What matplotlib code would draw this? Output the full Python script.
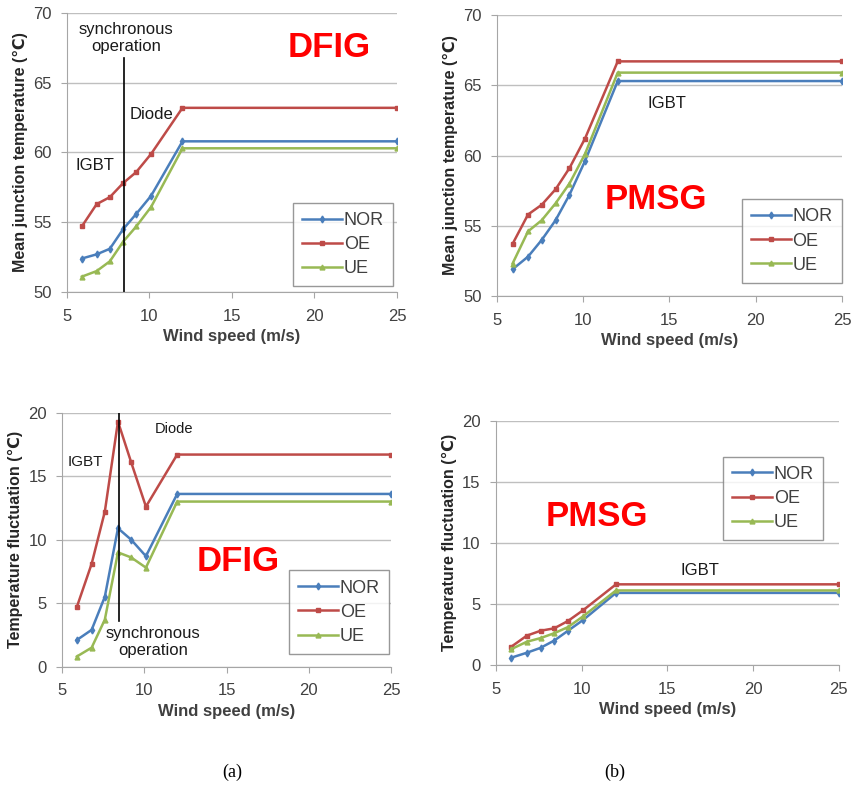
import matplotlib
matplotlib.use("Agg")
import matplotlib.pyplot as plt

plt.rcParams['font.family'] = ['Liberation Sans', 'DejaVu Sans']

# ---- data ----
wind = [5.9, 6.8, 7.6, 8.4, 9.2, 10.1, 12.0, 25.0]

dfig_mean_nor = [52.4, 52.7, 53.1, 54.5, 55.6, 56.9, 60.8, 60.8]
dfig_mean_oe = [54.7, 56.3, 56.8, 57.8, 58.6, 59.9, 63.2, 63.2]
dfig_mean_ue = [51.1, 51.5, 52.2, 53.6, 54.7, 56.1, 60.3, 60.3]

pmsg_mean_nor = [51.9, 52.8, 54.0, 55.4, 57.2, 59.6, 65.3, 65.3]
pmsg_mean_oe = [53.7, 55.8, 56.5, 57.6, 59.1, 61.2, 66.7, 66.7]
pmsg_mean_ue = [52.3, 54.6, 55.4, 56.6, 58.0, 60.1, 65.9, 65.9]

dfig_fluc_nor = [2.1, 2.9, 5.5, 10.9, 10.0, 8.7, 13.6, 13.6]
dfig_fluc_oe = [4.7, 8.1, 12.2, 19.3, 16.1, 12.6, 16.7, 16.7]
dfig_fluc_ue = [0.8, 1.5, 3.7, 9.0, 8.6, 7.8, 13.0, 13.0]

pmsg_fluc_nor = [0.6, 1.0, 1.4, 2.0, 2.8, 3.7, 5.9, 5.9]
pmsg_fluc_oe = [1.5, 2.4, 2.8, 3.0, 3.6, 4.5, 6.6, 6.6]
pmsg_fluc_ue = [1.3, 1.9, 2.2, 2.6, 3.1, 4.0, 6.1, 6.1]

series_names = ["NOR", "OE", "UE"]
sync_speed = 8.45

colors = {"NOR": "#4A7EBB", "OE": "#BE4B48", "UE": "#98B954"}
markers = {"NOR": "d", "OE": "s", "UE": "^"}

fig = plt.figure(figsize=(8.51, 7.86), dpi=100)

def style_axes(ax, ylim, yticks, ylabel):
    ax.set_xlim(5, 25)
    ax.set_ylim(*ylim)
    ax.set_xticks([5, 10, 15, 20, 25])
    ax.set_yticks(yticks)
    ax.yaxis.grid(True, color="#BFBFBF", lw=1)
    ax.set_axisbelow(True)
    for s in ["top", "right"]:
        ax.spines[s].set_visible(False)
    for s in ["left", "bottom"]:
        ax.spines[s].set_color("#A6A6A6")
    ax.tick_params(axis="both", labelsize=12, colors="#A6A6A6", labelcolor="#404040",
                   length=4, direction="out")
    ax.tick_params(axis="x", pad=8)
    ax.tick_params(axis="y", pad=7)
    ax.set_xlabel("Wind speed (m/s)", fontsize=12, fontweight="bold", color="#404040", labelpad=4)
    ax.set_ylabel(ylabel, fontsize=11.5, fontweight="bold", color="#262626", labelpad=4)

def plot_series(ax, data):
    for name, vals in zip(series_names, data):
        ax.plot(wind, vals, color=colors[name], lw=1.8, marker=markers[name],
                ms=3.5, mec=colors[name], label=name)

def add_legend(ax, loc, anchor):
    leg = ax.legend(loc=loc, bbox_to_anchor=anchor, fontsize=13, frameon=True,
                    fancybox=False, edgecolor="#7F7F7F", handlelength=2.2,
                    handletextpad=0.1, borderpad=0.5, labelspacing=0.4,
                    borderaxespad=0)
    leg.get_frame().set_linewidth(1.0)
    for t in leg.get_texts():
        t.set_color("#404040")

ylab_mean = "Mean junction temperature (\u2103)"
ylab_fluc = "Temperature fluctuation (\u2103)"

# Top-left: DFIG mean
ax1 = fig.add_axes([0.0787, 0.6285, 0.3878, 0.355])
plot_series(ax1, [dfig_mean_nor, dfig_mean_oe, dfig_mean_ue])
style_axes(ax1, (50, 70), [50, 55, 60, 65, 70], ylab_mean)
ax1.plot([sync_speed, sync_speed], [50, 66.8], color="black", lw=1.2)
ax1.text(8.6, 68.2, "synchronous\noperation", ha="center", va="center", fontsize=12, color="#1a1a1a", linespacing=1.1)
ax1.text(10.15, 62.75, "Diode", ha="center", va="center", fontsize=12, color="#1a1a1a")
ax1.text(6.7, 59.1, "IGBT", ha="center", va="center", fontsize=12, color="#1a1a1a")
ax1.text(20.9, 67.5, "DFIG", ha="center", va="center", fontsize=25, fontweight="bold", color="#FF0000")
add_legend(ax1, "lower right", (0.988, 0.02))

# Top-right: PMSG mean
ax2 = fig.add_axes([0.584, 0.6234, 0.4054, 0.3575])
plot_series(ax2, [pmsg_mean_nor, pmsg_mean_oe, pmsg_mean_ue])
style_axes(ax2, (50, 70), [50, 55, 60, 65, 70], ylab_mean)
ax2.text(14.85, 63.7, "IGBT", ha="center", va="center", fontsize=12, color="#1a1a1a")
ax2.text(14.2, 56.9, "PMSG", ha="center", va="center", fontsize=25, fontweight="bold", color="#FF0000")
add_legend(ax2, "lower right", (0.999, 0.047))

# Bottom-left: DFIG fluctuation
ax3 = fig.add_axes([0.0729, 0.1518, 0.3866, 0.3232])
plot_series(ax3, [dfig_fluc_nor, dfig_fluc_oe, dfig_fluc_ue])
style_axes(ax3, (0, 20), [0, 5, 10, 15, 20], ylab_fluc)
ax3.plot([sync_speed, sync_speed], [3.6, 20], color="black", lw=1.2)
ax3.text(10.55, 1.95, "synchronous\noperation", ha="center", va="center", fontsize=12, color="#1a1a1a", linespacing=1.1)
ax3.text(11.8, 18.7, "Diode", ha="center", va="center", fontsize=10.5, color="#1a1a1a")
ax3.text(6.4, 16.1, "IGBT", ha="center", va="center", fontsize=11, color="#1a1a1a")
ax3.text(15.7, 8.3, "DFIG", ha="center", va="center", fontsize=25, fontweight="bold", color="#FF0000")
add_legend(ax3, "lower right", (0.994, 0.05))

# Bottom-right: PMSG fluctuation
ax4 = fig.add_axes([0.5828, 0.154, 0.403, 0.3108])
plot_series(ax4, [pmsg_fluc_nor, pmsg_fluc_oe, pmsg_fluc_ue])
style_axes(ax4, (0, 20), [0, 5, 10, 15, 20], ylab_fluc)
ax4.text(16.9, 7.75, "IGBT", ha="center", va="center", fontsize=12, color="#1a1a1a")
ax4.text(10.9, 12.15, "PMSG", ha="center", va="center", fontsize=25, fontweight="bold", color="#FF0000")
add_legend(ax4, "upper right", (0.954, 0.853))

fig.text(0.2726, 0.018, "(a)", ha="center", va="center", fontsize=13, family="Liberation Serif")
fig.text(0.7227, 0.018, "(b)", ha="center", va="center", fontsize=13, family="Liberation Serif")

fig.savefig("out.png", dpi=100)
